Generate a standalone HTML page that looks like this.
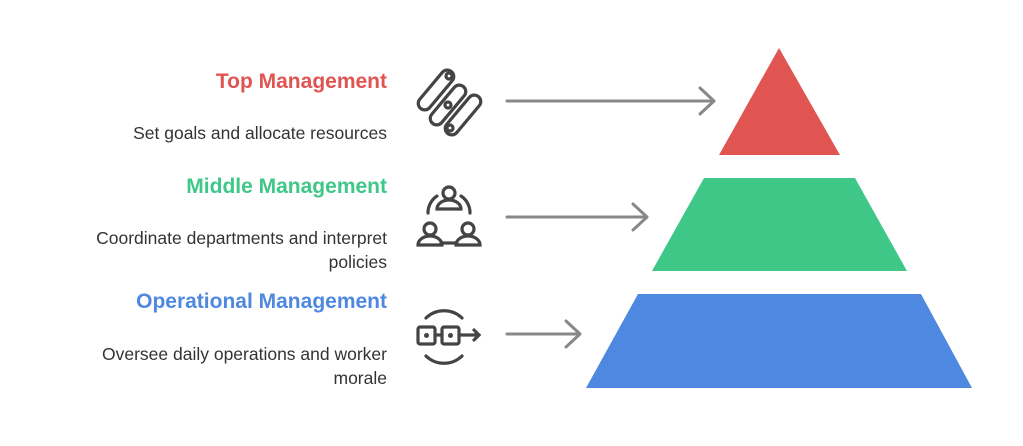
<!DOCTYPE html>
<html><head><style>
body{margin:0;width:1023px;height:446px;background:#fff;position:relative;font-family:"Liberation Sans",sans-serif;overflow:hidden}
.t{position:absolute;right:636px;text-align:right;white-space:nowrap}
.h{font-weight:bold;font-size:21px}
.d{font-size:17.5px;color:#333;line-height:24px}
</style></head><body>
<div class="t h" style="top:70px;color:#e05552">Top Management</div>
<div class="t d" style="top:121px">Set goals and allocate resources</div>
<div class="t h" style="top:175px;color:#3ec787">Middle Management</div>
<div class="t d" style="top:226px">Coordinate departments and interpret<br>policies</div>
<div class="t h" style="top:290px;color:#4e88e0">Operational Management</div>
<div class="t d" style="top:342px">Oversee daily operations and worker<br>morale</div>
<svg width="1023" height="446" style="position:absolute;left:0;top:0">
<polygon points="779,48 840,155 719,155" fill="#e05552"/>
<polygon points="704,178 855,178 907,271 652,271" fill="#3ec787"/>
<polygon points="638,294 921,294 972,388 586,388" fill="#4e88e0"/>
<g stroke="#888" stroke-width="3" fill="none" stroke-linecap="round" stroke-linejoin="round">
<path d="M507 101H714M700 88l14 13-14 13"/>
<path d="M507 217H647M633 204l14 13-14 13"/>
<path d="M507 334H580M566 321l14 13-14 13"/>
</g>
<g stroke="#444" stroke-width="3.2" fill="none" stroke-linecap="round">
<rect x="429.5" y="66" width="13" height="48" rx="6.5" transform="rotate(40 436 90)"/>
<rect x="441.5" y="81" width="13" height="48" rx="6.5" transform="rotate(40 448 105)"/>
<rect x="456.5" y="91" width="13" height="48" rx="6.5" transform="rotate(40 463 115)"/>
<circle cx="449" cy="76" r="3"/><circle cx="448" cy="105" r="3"/><circle cx="450" cy="128" r="3"/>
<circle cx="449" cy="193" r="6"/><path d="M437 209a12 9 0 0 1 24 0z"/>
<circle cx="430" cy="229" r="6"/><path d="M418 245a12 9 0 0 1 24 0z"/>
<circle cx="468" cy="229" r="6"/><path d="M456 245a12 9 0 0 1 24 0z"/>
<path d="M437 196a20 20 0 0 0-9 17M461 196a20 20 0 0 1 9 17M441 243h16"/>
<path d="M426 318a26 26 0 0 1 36 0M426 356a26 26 0 0 0 36 0"/>
<rect x="418" y="327" width="17" height="17" rx="2"/><rect x="442" y="327" width="17" height="17" rx="2"/>
<path d="M435 335h7M459 335h20M474 330l5 5-5 5"/>
</g>
<circle cx="426.5" cy="335.5" r="2.5" fill="#444"/><circle cx="450.5" cy="335.5" r="2.5" fill="#444"/>
</svg>
</body></html>
